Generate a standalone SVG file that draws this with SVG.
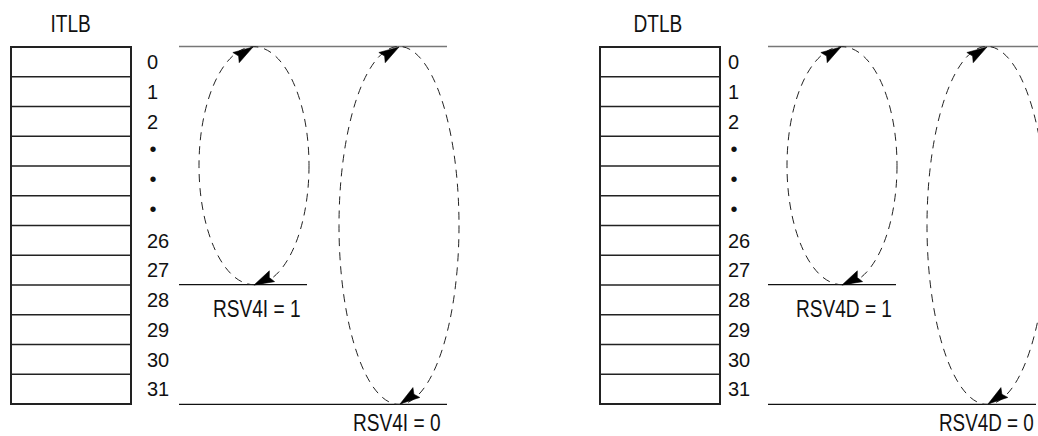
<svg xmlns="http://www.w3.org/2000/svg" width="1038" height="436" viewBox="0 0 1038 436">
<style>
.bg{fill:#fff}
.tbl{fill:#fff;stroke:#222;stroke-width:2}
.row{stroke:#222;stroke-width:1.5}
.num{font-family:"Liberation Sans",Arial,sans-serif;font-size:20px;fill:#111}
.lbl{font-family:"Liberation Sans",Arial,sans-serif;font-size:23px;fill:#111}
.top{stroke:#777;stroke-width:1.5}
.lvl{stroke:#111;stroke-width:1.2}
.loop{fill:none;stroke:#222;stroke-width:1;stroke-dasharray:8 6}
.ah{fill:#000;stroke:#000;stroke-width:0.5}
</style>
<defs>
<g id="rows">
<rect class="tbl" x="0" y="47" width="120" height="357"/>
<line class="row" x1="0" y1="76.75" x2="120" y2="76.75"/>
<line class="row" x1="0" y1="106.5" x2="120" y2="106.5"/>
<line class="row" x1="0" y1="136.25" x2="120" y2="136.25"/>
<line class="row" x1="0" y1="166" x2="120" y2="166"/>
<line class="row" x1="0" y1="195.75" x2="120" y2="195.75"/>
<line class="row" x1="0" y1="225.5" x2="120" y2="225.5"/>
<line class="row" x1="0" y1="255.25" x2="120" y2="255.25"/>
<line class="row" x1="0" y1="285" x2="120" y2="285"/>
<line class="row" x1="0" y1="314.75" x2="120" y2="314.75"/>
<line class="row" x1="0" y1="344.5" x2="120" y2="344.5"/>
<line class="row" x1="0" y1="374.25" x2="120" y2="374.25"/>
</g>
<g id="nums">
<text class="num" x="0" y="69">0</text>
<text class="num" x="0" y="98.8">1</text>
<text class="num" x="0" y="128.6">2</text>
<text class="num" x="6" y="156" text-anchor="middle">•</text>
<text class="num" x="6" y="186" text-anchor="middle">•</text>
<text class="num" x="6" y="216" text-anchor="middle">•</text>
<text class="num" x="0" y="247.6">26</text>
<text class="num" x="0" y="277.3">27</text>
<text class="num" x="0" y="307">28</text>
<text class="num" x="0" y="336.8">29</text>
<text class="num" x="0" y="366.6">30</text>
<text class="num" x="0" y="396.3">31</text>
</g>
</defs>
<rect class="bg" x="0" y="0" width="1038" height="436"/>

<g id="itlb">
<use href="#rows" x="11" y="0"/>
<use href="#nums" x="147" y="0"/>
<text class="lbl" transform="translate(50.5,31.5) scale(0.83,1)">ITLB</text>
</g>

<g id="dtlb">
<use href="#rows" x="600" y="0"/>
<use href="#nums" x="728" y="0"/>
<text class="lbl" transform="translate(633.5,31.5) scale(0.83,1)">DTLB</text>
</g>

<g id="levels-i">
<line class="top" x1="179" y1="46.5" x2="447" y2="46.5"/>
<line class="lvl" x1="179" y1="284.7" x2="307" y2="284.7"/>
<line class="lvl" x1="179" y1="404.3" x2="447" y2="404.3"/>
<text class="lbl" transform="translate(213,316.5) scale(0.83,1)">RSV4I = 1</text>
<text class="lbl" transform="translate(353,430.5) scale(0.83,1)">RSV4I = 0</text>
</g>

<g id="levels-d">
<line class="top" x1="768" y1="46.5" x2="1038" y2="46.5"/>
<line class="lvl" x1="768" y1="284.7" x2="896" y2="284.7"/>
<line class="lvl" x1="768" y1="404.3" x2="1036" y2="404.3"/>
<text class="lbl" transform="translate(796,316.5) scale(0.83,1)">RSV4D = 1</text>
<text class="lbl" transform="translate(939,430.5) scale(0.82,1)">RSV4D = 0</text>
</g>

<g id="connectors">
<ellipse class="loop" cx="254" cy="165.7" rx="55" ry="119"/>
<ellipse class="loop" cx="399" cy="225.4" rx="60" ry="179"/>
<path class="ah" transform="translate(253,47) rotate(-32)" d="M0,0 L-20,-6 L-17,0 L-20,6 Z"/>
<path class="ah" transform="translate(399,47) rotate(-32)" d="M0,0 L-20,-6 L-17,0 L-20,6 Z"/>
<path class="ah" transform="translate(254,285) rotate(154)" d="M0,0 L-20,-6 L-17,0 L-20,6 Z"/>
<path class="ah" transform="translate(400,404) rotate(145)" d="M0,0 L-20,-6 L-17,0 L-20,6 Z"/>

<ellipse class="loop" cx="842" cy="165.7" rx="55" ry="119"/>
<ellipse class="loop" cx="987" cy="225.4" rx="60" ry="179"/>
<path class="ah" transform="translate(841,47) rotate(-32)" d="M0,0 L-20,-6 L-17,0 L-20,6 Z"/>
<path class="ah" transform="translate(987,47) rotate(-32)" d="M0,0 L-20,-6 L-17,0 L-20,6 Z"/>
<path class="ah" transform="translate(842,285) rotate(154)" d="M0,0 L-20,-6 L-17,0 L-20,6 Z"/>
<path class="ah" transform="translate(988,404) rotate(145)" d="M0,0 L-20,-6 L-17,0 L-20,6 Z"/>
</g>
</svg>
